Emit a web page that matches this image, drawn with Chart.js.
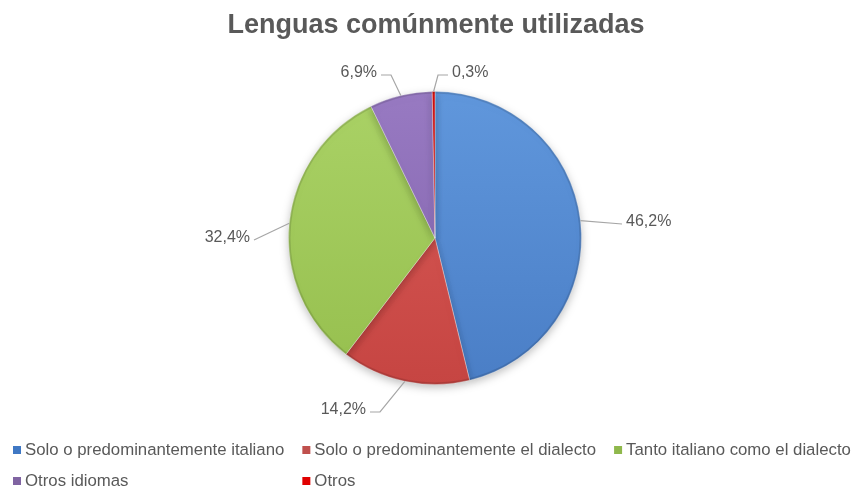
<!DOCTYPE html>
<html>
<head>
<meta charset="utf-8">
<script src="https://cdn.jsdelivr.net/npm/chart.js@4.4.1/dist/chart.umd.min.js"></script>
<style>
  html, body { margin: 0; padding: 0; background: #fff; }
  #wrap { width: 853px; height: 488px; position: relative; }
</style>
</head>
<body>
<div id="wrap"><canvas id="pieChart" width="853" height="488"></canvas></div>
<script>
  const titleText = 'Lenguas comúnmente utilizadas';
  const categories = [
    'Solo o predominantemente italiano',
    'Solo o predominantemente el dialecto',
    'Tanto italiano como el dialecto',
    'Otros idiomas',
    'Otros'
  ];
  const shares = [46.2, 14.2, 32.4, 6.9, 0.3];
  const valueLabels = ['46,2%', '14,2%', '32,4%', '6,9%', '0,3%'];

  // slice colours: [light, dark]
  const sliceColors = [
    ['#6097dc', '#4a7ec6'],
    ['#da5c58', '#c64542'],
    ['#aad266', '#96bf4e'],
    ['#987ac2', '#8061ab'],
    ['#d01010', '#a80000']
  ];
  const legendSwatch = ['#3f78c4', '#c0504d', '#8fb84c', '#8064a2', '#e00000'];

  // label placement relative to pie centre: [dx, dy, align, elbow]
  const labelPlace = [
    [191, -16, 'left', false],
    [-69, 172, 'right', true],
    [-185, 0, 'right', false],
    [-58, -165, 'right', true],
    [17, -165, 'left', true]
  ];

  const ctx = document.getElementById('pieChart').getContext('2d');

  function sliceFill(c) {
    const i = c.dataIndex;
    const a = c.chart.chartArea;
    if (!a || i === undefined) return sliceColors[0][1];
    const g = c.chart.ctx.createLinearGradient(0, a.top, 0, a.bottom);
    g.addColorStop(0, sliceColors[i][0]);
    g.addColorStop(1, sliceColors[i][1]);
    return g;
  }

  const extras = {
    id: 'extras',
    beforeDatasetsDraw(chart) {
      const c = chart.ctx;
      c.save();
      c.shadowColor = 'rgba(0,0,0,0.25)';
      c.shadowBlur = 8;
      c.shadowOffsetY = 3;
    },
    afterDatasetsDraw(chart) {
      const c = chart.ctx;
      c.restore();
      const arcs = chart.getDatasetMeta(0).data;

      // soft darker rim like the original bevel
      const p0 = arcs[0].getProps(['x', 'y', 'outerRadius']);
      c.save();
      c.beginPath();
      c.arc(p0.x, p0.y, p0.outerRadius - 1, 0, Math.PI * 2);
      c.strokeStyle = 'rgba(0,0,0,0.12)';
      c.lineWidth = 2;
      c.stroke();
      c.restore();

      // data labels with leader lines
      c.save();
      c.font = '16px "Liberation Sans", Arial, sans-serif';
      c.fillStyle = '#595959';
      c.strokeStyle = '#a6a6a6';
      c.lineWidth = 1.2;
      c.textBaseline = 'middle';
      arcs.forEach((arc, i) => {
        const p = arc.getProps(['x', 'y', 'startAngle', 'endAngle', 'outerRadius']);
        const mid = (p.startAngle + p.endAngle) / 2;
        const ex = p.x + Math.cos(mid) * p.outerRadius;
        const ey = p.y + Math.sin(mid) * p.outerRadius;
        const [dx, dy, align, elbow] = labelPlace[i];
        const lx = p.x + dx, ly = p.y + dy;
        const sgn = align === 'left' ? -1 : 1;
        const endX = lx + sgn * 4, endY = ly + 2;
        c.beginPath();
        c.moveTo(ex, ey);
        if (elbow) {
          c.lineTo(endX + sgn * 10, endY);
        }
        c.lineTo(endX, endY);
        c.stroke();
        c.textAlign = align;
        c.fillText(valueLabels[i], lx, ly);
      });
      c.restore();

      // title
      c.save();
      c.font = 'bold 27px "Liberation Sans", Arial, sans-serif';
      c.fillStyle = '#595959';
      c.textAlign = 'center';
      c.textBaseline = 'middle';
      c.fillText(titleText, 436, 26);
      c.restore();

      // legend, two rows, second row aligned to first row columns
      c.save();
      c.font = '16.8px "Liberation Sans", Arial, sans-serif';
      c.textBaseline = 'middle';
      c.textAlign = 'left';
      const cols = [];
      let x = 13;
      for (let i = 0; i < 3; i++) {
        cols.push(x);
        x += 12 + c.measureText(categories[i]).width + 18;
      }
      categories.forEach((name, i) => {
        const col = cols[i % 3];
        const y = i < 3 ? 450 : 481;
        c.fillStyle = legendSwatch[i];
        c.fillRect(col, y - 4, 8, 8);
        c.fillStyle = '#595959';
        c.fillText(name, col + 12, y);
      });
      c.restore();
    }
  };

  new Chart(ctx, {
    type: 'pie',
    data: {
      labels: categories,
      datasets: [{
        data: shares,
        backgroundColor: sliceFill,
        borderColor: 'rgba(255,255,255,0.35)',
        borderWidth: 1
      }]
    },
    options: {
      responsive: false,
      animation: false,
      layout: { padding: { top: 91, bottom: 103, left: 17, right: 0 } },
      plugins: {
        legend: { display: false },
        title: { display: false },
        tooltip: { enabled: false }
      }
    },
    plugins: [extras]
  });
</script>
</body>
</html>
